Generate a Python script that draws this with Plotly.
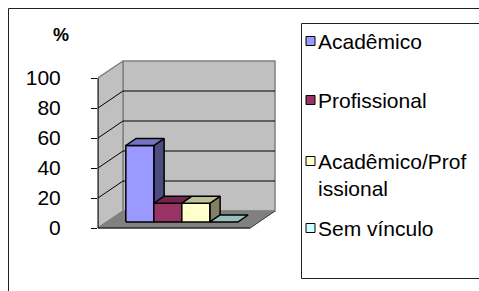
import plotly.graph_objects as go

# ---------------- data ----------------
series_names = ["Acadêmico", "Profissional", "Acadêmico/Profissional", "Sem vínculo"]
legend_labels = ["Acadêmico", "Profissional", "Acadêmico/Prof<br>issional", "Sem vínculo"]
values = [51, 12.5, 12.5, 0]
series_colors = ["#9999ff", "#993366", "#ffffcc", "#ccffff"]
y_ticks = [0, 20, 40, 60, 80, 100]
y_title = "%"

# ---------------- layout geometry (pixels) ----------------
FIG_W, FIG_H = 479, 291
L, RPX, T, BPX = 98, 300, 20, 240            # plot area in px (left edge = value axis)
PW, PH = RPX - L, BPX - T
Y0_PX, PX_PER_UNIT = 228, 1.5                # value 0 in px, px per value unit
DX = 25.0                                    # depth shift (x units = px)
DY = 17.0 / PX_PER_UNIT                      # depth shift (value units)
FLOOR_W = 152.0
BAR_W, BAR_GAP = 28.0, 19.0
Z_FRONT, Z_BACK = 6.0 / 17.0, 13.0 / 17.0
FONT = "Liberation Sans, Arial, sans-serif"

def px2paper(px, py):
    return (px - L) / PW, (BPX - py) / PH

def P(x, v, z):
    return x + z * DX, v + z * DY

def shade(hex_color, k):
    h = hex_color.lstrip("#")
    r, g, b = (int(h[i:i + 2], 16) for i in (0, 2, 4))
    return "rgb(%d,%d,%d)" % (round(r * k), round(g * k), round(b * k))

fig = go.Figure()

def poly(pts, fill, line_color, lw):
    xs = [p[0] for p in pts] + [pts[0][0]]
    ys = [p[1] for p in pts] + [pts[0][1]]
    fig.add_trace(go.Scatter(x=xs, y=ys, mode="lines", fill="toself",
                             fillcolor=fill, line=dict(color=line_color, width=lw),
                             hoverinfo="skip", showlegend=False))

def seg(a, b, color, lw):
    fig.add_trace(go.Scatter(x=[a[0], b[0]], y=[a[1], b[1]], mode="lines",
                             line=dict(color=color, width=lw),
                             hoverinfo="skip", showlegend=False))

ymax = y_ticks[-1]
# walls and floor
poly([P(0, 0, 1), P(FLOOR_W, 0, 1), P(FLOOR_W, ymax, 1), P(0, ymax, 1)], "#c0c0c0", "#808080", 1.5)
poly([P(0, 0, 0), P(0, 0, 1), P(0, ymax, 1), P(0, ymax, 0)], "#c0c0c0", "#808080", 1.5)
poly([P(0, 0, 0), P(FLOOR_W, 0, 0), P(FLOOR_W, 0, 1), P(0, 0, 1)], "#808080", "#808080", 1)
# gridlines
for v in y_ticks[1:-1]:
    seg(P(0, v, 0), P(0, v, 1), "black", 1)
    seg(P(0, v, 1), P(FLOOR_W, v, 1), "black", 1)
# floor front / right edges
seg(P(0, 0, 0), P(FLOOR_W, 0, 0), "black", 1)
seg(P(FLOOR_W, 0, 0), P(FLOOR_W, 0, 1), "#404040", 1)

# bars
for i, (name, v, col) in enumerate(zip(series_names, values, series_colors)):
    x0 = BAR_GAP + i * BAR_W
    x1 = x0 + BAR_W
    side = [P(x1, 0, Z_FRONT), P(x1, 0, Z_BACK), P(x1, v, Z_BACK), P(x1, v, Z_FRONT)]
    front = [P(x0, 0, Z_FRONT), P(x1, 0, Z_FRONT), P(x1, v, Z_FRONT), P(x0, v, Z_FRONT)]
    top = [P(x0, v, Z_FRONT), P(x1, v, Z_FRONT), P(x1, v, Z_BACK), P(x0, v, Z_BACK)]
    if v > 0:
        poly(side, shade(col, 0.5), "black", 1.5)
        poly(front, col, "black", 1.5)
    poly(top, shade(col, 0.75), "black", 1.5)

shapes = []
annotations = []

def pline(xa, ya, xb, yb, color="#202020"):
    p0 = px2paper(xa, ya)
    p1 = px2paper(xb, yb)
    shapes.append(dict(type="line", xref="paper", yref="paper",
                       x0=p0[0], y0=p0[1], x1=p1[0], y1=p1[1],
                       line=dict(color=color, width=1)))

# value axis line (front plane, 0..100)
shapes.append(dict(type="line", xref="paper", yref="y", x0=0, x1=0, y0=0, y1=ymax,
                   line=dict(color="black", width=1)))
# outer chart frame (left and top edges; the rest lies outside the picture)
pline(8.5, 8.5, 8.5, 300)
pline(8.5, 8.5, 490, 8.5)
# legend box (left, top, bottom edges)
pline(301.5, 23.5, 301.5, 278.5)
pline(301.5, 23.5, 490, 23.5)
pline(301.5, 278.5, 490, 278.5)

legend_y = [41, 100, 175, 228]
swatch_y = [41, 100, 161, 228]
for lab, col, ty, sy in zip(legend_labels, series_colors, legend_y, swatch_y):
    sx0, sy0 = px2paper(306, sy - 4.5)
    sx1, sy1 = px2paper(315, sy + 4.5)
    shapes.append(dict(type="rect", xref="paper", yref="paper", x0=sx0, y0=sy1, x1=sx1, y1=sy0,
                       fillcolor=col, line=dict(color="black", width=1)))
    ax, ay = px2paper(316, ty)
    annotations.append(dict(text=lab, xref="paper", yref="paper", x=ax, y=ay,
                            xanchor="left", yanchor="middle", showarrow=False, align="left",
                            font=dict(family=FONT, size=21, color="black")))
# % title
tx, ty = px2paper(61, 35)
annotations.append(dict(text="<b>%s</b>" % y_title, xref="paper", yref="paper", x=tx, y=ty,
                        xanchor="center", yanchor="middle", showarrow=False,
                        font=dict(family=FONT, size=18, color="black")))

fig.update_layout(
    template="none",
    width=FIG_W, height=FIG_H,
    margin=dict(l=L, r=FIG_W - RPX, t=T, b=FIG_H - BPX, pad=0, autoexpand=False),
    paper_bgcolor="white", plot_bgcolor="rgba(0,0,0,0)",
    showlegend=False,
    xaxis=dict(range=[0, RPX - L], visible=False, fixedrange=True),
    yaxis=dict(range=[(Y0_PX - BPX) / PX_PER_UNIT, (Y0_PX - T) / PX_PER_UNIT],
               tickmode="array", tickvals=y_ticks, ticks="outside", ticklen=6,
               tickcolor="black", tickwidth=1,
               showgrid=False, zeroline=False, showline=False, fixedrange=True,
               automargin=False, ticklabelstandoff=26,
               tickfont=dict(family=FONT, size=21, color="black")),
    shapes=shapes, annotations=annotations,
)

fig.write_html("out.html", config={"displayModeBar": False, "staticPlot": True},
               post_script="document.body.style.margin='0';"
                           "document.documentElement.style.overflow='hidden';")
